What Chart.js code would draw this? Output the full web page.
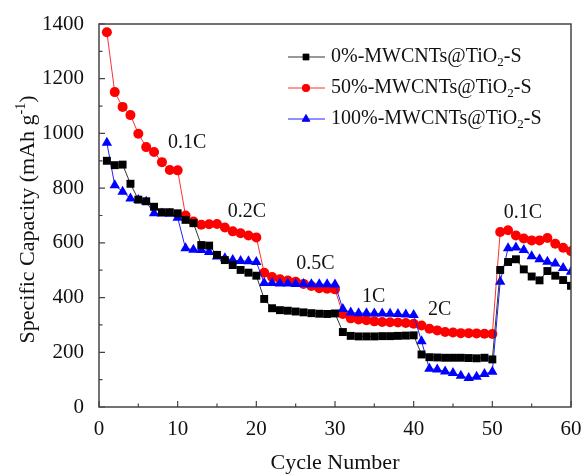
<!DOCTYPE html>
<html>
<head>
<meta charset="utf-8">
<script src="https://cdn.jsdelivr.net/npm/chart.js@4"></script>
<style>
html,body{margin:0;padding:0;background:#fff}
</style>
</head>
<body>
<canvas id="myChart" width="586" height="474"></canvas>
<script>
// cycle numbers 1..60
const cycles = [1,2,3,4,5,6,7,8,9,10,11,12,13,14,15,16,17,18,19,20,21,22,23,24,25,26,27,28,29,30,
                31,32,33,34,35,36,37,38,39,40,41,42,43,44,45,46,47,48,49,50,51,52,53,54,55,56,57,58,59,60]

const cap0 = [900,884,886,816,758,752,732,712,712,708, 684,672,592,590,556,537,519,501,491,480,
              395,361,354,352,349,346,343,341,340,342, 274,260,258,258,258,259,259,260,261,262,
              192,182,181,180,180,180,179,178,180,174, 501,530,540,503,477,463,497,480,464,443]
const cap50 = [1370,1151,1097,1067,999,950,932,895,866,865, 700,678,666,668,669,656,642,635,627,620,
               491,475,467,462,458,450,442,434,432,430, 340,324,320,317,313,311,310,309,307,304,
               298,286,280,274,272,270,270,269,268,267, 640,646,627,616,609,609,618,597,582,569]
const cap100 = [966,811,787,762,757,750,708,707,706,692, 580,575,574,567,550,544,537,534,533,530,
                453,453,451,451,450,450,449,449,449,448, 358,345,343,343,342,342,341,340,338,336,
                240,140,137,130,124,114,106,111,121,129, 458,580,583,574,551,540,531,525,508,494]

const seriesNames = ["0%-MWCNTs@TiO", "50%-MWCNTs@TiO", "100%-MWCNTs@TiO"]
const xTicks = [0,10,20,30,40,50,60]
const yTicks = [0,200,400,600,800,1000,1200,1400]

// rate labels: [text, cycle, capacity]
const rateLabels = [["0.1C",11.2,967],["0.2C",18.8,715],["0.5C",27.5,523],["1C",34.9,404],["2C",43.3,356],["0.1C",53.9,709]]

const serif = '"Liberation Serif", "Times New Roman", serif'
const axisColor = "#444"

function pts(vals) {
    return cycles.map((c, i) => ({x: c, y: vals[i]}))
}

const extras = {
    id: 'extras',
    afterDraw(chart) {
        const ctx = chart.ctx, a = chart.chartArea
        const xs = chart.scales.x, ys = chart.scales.y
        ctx.save()
        ctx.strokeStyle = axisColor
        ctx.lineWidth = 1.5
        ctx.strokeRect(a.left, a.top, a.right - a.left, a.bottom - a.top)

        // inward ticks, major and minor
        ctx.lineWidth = 1.2
        ctx.beginPath()
        for (let v = 0; v <= 60; v += 5) {
            let px = xs.getPixelForValue(v)
            let len = xTicks.includes(v) ? 6 : 3.5
            ctx.moveTo(px, a.bottom); ctx.lineTo(px, a.bottom - len)
        }
        for (let v = 0; v <= 1400; v += 100) {
            let py = ys.getPixelForValue(v)
            let len = yTicks.includes(v) ? 6 : 3.5
            ctx.moveTo(a.left, py); ctx.lineTo(a.left + len, py)
        }
        ctx.stroke()

        ctx.fillStyle = "#111"
        // x title
        ctx.font = "22px " + serif
        ctx.textAlign = "center"
        ctx.textBaseline = "middle"
        ctx.fillText("Cycle Number", (a.left + a.right) / 2, 463)

        // y title with superscript
        ctx.save()
        ctx.translate(28, (a.top + a.bottom) / 2 + 4)
        ctx.rotate(-Math.PI / 2)
        ctx.textAlign = "left"
        ctx.textBaseline = "middle"
        let main = "Specific Capacity (mAh g", sup = "-1", end = ")"
        ctx.font = "22px " + serif
        let w1 = ctx.measureText(main).width, w3 = ctx.measureText(end).width
        ctx.font = "14px " + serif
        let w2 = ctx.measureText(sup).width
        let x0 = -(w1 + w2 + w3) / 2
        ctx.font = "22px " + serif
        ctx.fillText(main, x0, 0)
        ctx.font = "14px " + serif
        ctx.fillText(sup, x0 + w1, -7)
        ctx.font = "22px " + serif
        ctx.fillText(end, x0 + w1 + w2, 0)
        ctx.restore()

        // rate annotations
        ctx.font = "20px " + serif
        ctx.textAlign = "center"
        ctx.textBaseline = "middle"
        rateLabels.forEach(r => {
            ctx.fillText(r[0], xs.getPixelForValue(r[1]), ys.getPixelForValue(r[2]))
        })

        // legend with line + marker and subscript
        chart.data.datasets.forEach((ds, i) => {
            let cy = 57 + i * 31
            ctx.strokeStyle = ds.borderColor
            ctx.lineWidth = 1
            ctx.beginPath(); ctx.moveTo(288, cy); ctx.lineTo(325, cy); ctx.stroke()
            Chart.helpers.drawPoint(ctx, {pointStyle: ds.pointStyle, radius: ds.pointRadius * 0.75, borderWidth: 1}, 306, cy)
            ctx.fillStyle = ds.pointBackgroundColor
            ctx.fill()
            ctx.fillStyle = "#111"
            ctx.textAlign = "left"
            ctx.font = "20px " + serif
            let t = seriesNames[i]
            ctx.fillText(t, 331, cy)
            let w = ctx.measureText(t).width
            ctx.font = "13px " + serif
            ctx.fillText("2", 331 + w, cy + 6)
            let ws = ctx.measureText("2").width
            ctx.font = "20px " + serif
            ctx.fillText("-S", 331 + w + ws, cy)
        })
        ctx.restore()
    }
}

let mychart = document.getElementById('myChart').getContext('2d')
let chart = new Chart(mychart, {
    type: 'line',
    data: {
        datasets: [{
            label: "0%",
            data: pts(cap0),
            borderColor: "#333",
            borderWidth: 1,
            pointStyle: 'rect',
            pointRadius: 5.6,
            pointBackgroundColor: "#000",
            pointBorderColor: "#000",
            pointBorderWidth: 0,
            order: 0
        }, {
            label: "50%",
            data: pts(cap50),
            borderColor: "#ff3030",
            borderWidth: 1,
            pointStyle: 'circle',
            pointRadius: 5,
            pointBackgroundColor: "#ff0000",
            pointBorderColor: "#ff0000",
            pointBorderWidth: 0,
            order: 2
        }, {
            label: "100%",
            data: pts(cap100),
            borderColor: "#2020ff",
            borderWidth: 1,
            pointStyle: 'triangle',
            pointRadius: 6,
            pointBackgroundColor: "#0000ff",
            pointBorderColor: "#0000ff",
            pointBorderWidth: 0,
            order: 1
        }]
    },
    options: {
        responsive: false,
        animation: false,
        devicePixelRatio: 1,
        layout: {padding: {left: 0, top: 24, right: 15, bottom: 0}},
        plugins: {legend: {display: false}, tooltip: {enabled: false}},
        scales: {
            x: {
                type: 'linear', min: 0, max: 60,
                afterFit: s => { s.height = 67 },
                afterBuildTicks: s => { s.ticks = xTicks.map(v => ({value: v})) },
                grid: {display: false},
                border: {display: false},
                ticks: {color: "#111", padding: 2, font: {family: serif, size: 21}, callback: v => String(v)}
            },
            y: {
                min: 0, max: 1400,
                afterFit: s => { s.width = 99 },
                afterBuildTicks: s => { s.ticks = yTicks.map(v => ({value: v})) },
                grid: {display: false},
                border: {display: false},
                ticks: {color: "#111", padding: 7, font: {family: serif, size: 21}, callback: v => String(v)}
            }
        }
    },
    plugins: [extras]
})
</script>
</body>
</html>
